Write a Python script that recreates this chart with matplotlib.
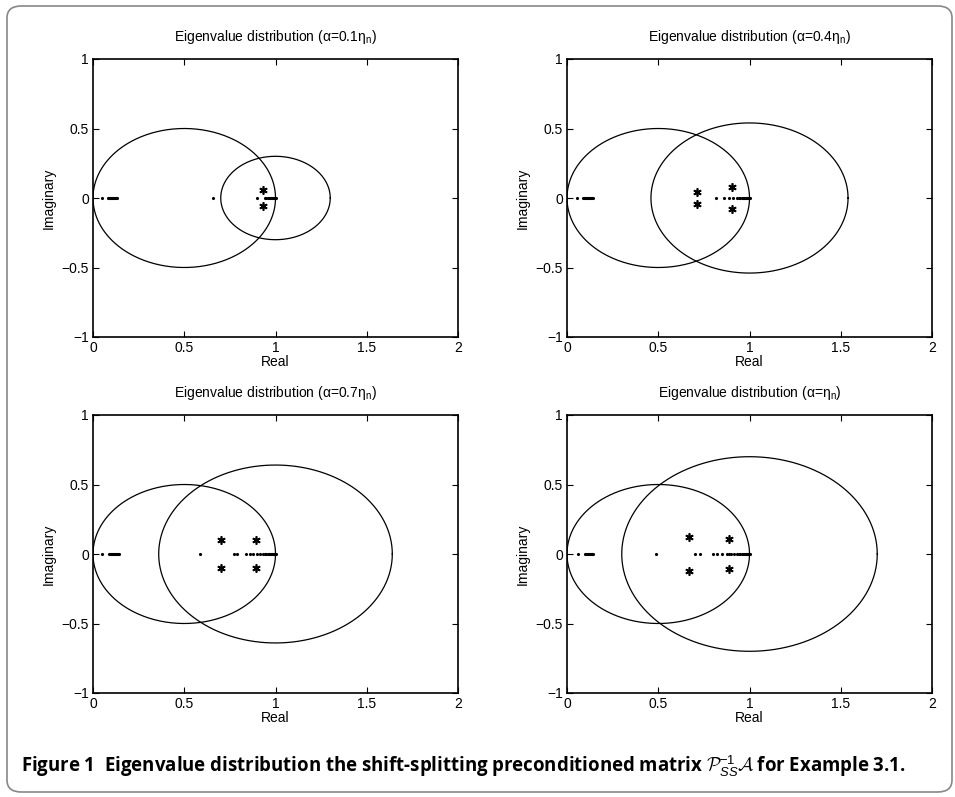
import matplotlib
matplotlib.use("Agg")
import matplotlib.pyplot as plt
import numpy as np
from matplotlib.patches import FancyBboxPatch

plt.rcParams['font.family'] = ['Liberation Sans', 'DejaVu Sans']
plt.rcParams['mathtext.fontset'] = 'custom'
plt.rcParams['mathtext.rm'] = 'Liberation Sans'
plt.rcParams['mathtext.it'] = 'Liberation Sans:italic'
plt.rcParams['mathtext.cal'] = 'cmsy10'

# panel titles
alphas = ['0.1η', '0.4η', '0.7η', 'η']

# eigenvalues on the real axis (dots)
real_1 = [0.05, 0.08, 0.085, 0.09, 0.095, 0.10, 0.105, 0.11, 0.115, 0.12, 0.125, 0.13,
          0.66, 0.90, 0.94, 0.95, 0.96, 0.965, 0.97, 0.975, 0.98, 0.985, 0.99, 0.995, 1.0]
real_2 = [0.055, 0.09, 0.095, 0.10, 0.105, 0.11, 0.115, 0.12, 0.125, 0.13, 0.135, 0.14,
          0.815, 0.86, 0.89, 0.91, 0.93, 0.94, 0.95, 0.96, 0.965, 0.97, 0.975, 0.98, 0.985, 0.99, 0.995, 1.0]
real_3 = [0.05, 0.09, 0.095, 0.10, 0.105, 0.11, 0.115, 0.12, 0.125, 0.13, 0.135, 0.14,
          0.586, 0.77, 0.79, 0.84, 0.86, 0.877, 0.9, 0.915, 0.93, 0.94, 0.95, 0.96, 0.965, 0.97,
          0.975, 0.98, 0.985, 0.99, 0.995, 1.0]
real_4 = [0.06, 0.10, 0.105, 0.11, 0.115, 0.12, 0.125, 0.13, 0.135, 0.14,
          0.49, 0.70, 0.73, 0.80, 0.82, 0.85, 0.875, 0.89, 0.90, 0.915, 0.93, 0.94, 0.95, 0.96,
          0.965, 0.97, 0.975, 0.98, 0.985, 0.99, 0.995, 1.0]

# complex eigenvalue pairs (stars): real part, imaginary part
star_re_1 = [0.93]
star_im_1 = [0.055]
star_re_2 = [0.71, 0.905]
star_im_2 = [0.04, 0.08]
star_re_3 = [0.70, 0.893]
star_im_3 = [0.10, 0.10]
star_re_4 = [0.67, 0.89]
star_im_4 = [0.12, 0.11]

# bounding circles: center on the real axis, radius
left_center, left_radius = 0.5, 0.5
right_center = 1.0
right_radius = [0.3, 0.54, 0.64, 0.70]

reals = [real_1, real_2, real_3, real_4]
star_re = [star_re_1, star_re_2, star_re_3, star_re_4]
star_im = [star_im_1, star_im_2, star_im_3, star_im_4]

fig = plt.figure(figsize=(9.55, 7.97), dpi=100)
W, H = 955, 797
lefts = [93, 567, 93, 567]
tops = [59, 59, 415, 415]
aw, ah = 365, 278

t = np.linspace(0, 2 * np.pi, 400)
for i in range(4):
    ax = fig.add_axes([lefts[i] / W, 1 - (tops[i] + ah) / H, aw / W, ah / H])
    ax.plot(left_center + left_radius * np.cos(t), left_radius * np.sin(t), color='black', lw=0.9)
    ax.plot(right_center + right_radius[i] * np.cos(t), right_radius[i] * np.sin(t), color='black', lw=0.9)
    ax.plot(reals[i], np.zeros(len(reals[i])), '.', color='black', markersize=2.5)
    sr = np.array(star_re[i])
    si = np.array(star_im[i])
    ax.plot(np.concatenate([sr, sr]), np.concatenate([si, -si]), marker=(6, 2, 0), ls='none',
            color='black', markersize=6, markeredgewidth=1.2)
    ax.set_xlim(0, 2)
    ax.set_ylim(-1, 1)
    ax.set_xticks([0, 0.5, 1, 1.5, 2])
    ax.set_xticklabels(['0', '0.5', '1', '1.5', '2'])
    ax.set_yticks([-1, -0.5, 0, 0.5, 1])
    ax.set_yticklabels(['\u22121', '\u22120.5', '0', '0.5', '1'])
    ax.tick_params(direction='in', top=True, right=True, length=4, labelsize=10, pad=3)
    for s in ax.spines.values():
        s.set_linewidth(1.2)
    ax.set_xlabel('Real', fontsize=10, labelpad=0)
    ax.set_ylabel('Imaginary', fontsize=10, labelpad=4)
    a = alphas[i]
    ax.set_title('Eigenvalue distribution (α=' + a + '$_\\mathregular{n}$)', fontsize=10, pad=13)

box = FancyBboxPatch((7 / W, 5 / H), 945 / W, 786 / H, boxstyle='round,pad=0,rounding_size=0.015',
                     transform=fig.transFigure, fill=False, edgecolor='#888888', lw=1.2)
fig.patches.append(box)

fig.text(21 / W, 1 - 766 / H,
         'Figure 1  Eigenvalue distribution the shift-splitting preconditioned matrix '
         '$\\mathcal{P}_{\\mathit{SS}}^{-1}\\mathcal{A}$ for Example 3.1.',
         fontsize=13.4, fontweight='bold', family=['Open Sans', 'DejaVu Sans'], va='center')

fig.savefig('out.png', dpi=100)
